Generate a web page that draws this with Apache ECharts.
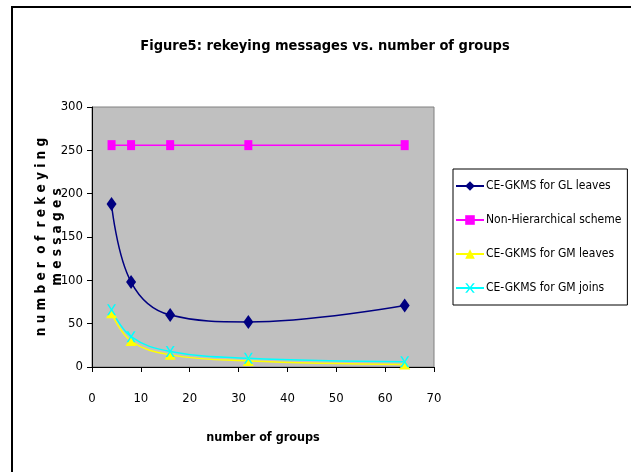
<!DOCTYPE html>
<html>
<head>
<meta charset="utf-8">
<script src="https://cdn.jsdelivr.net/npm/echarts@6/dist/echarts.min.js"></script>
<style>
  html, body { margin: 0; padding: 0; background: #fff; }
  #wrap { position: relative; width: 631px; height: 472px; }
  #chart { width: 631px; height: 472px; }
  #frame {
    position: absolute; left: 11px; top: 6px; right: -2px; bottom: -2px;
    border-top: 2px solid #000; border-left: 2px solid #000;
    pointer-events: none;
  }
</style>
</head>
<body>
<div id="wrap">
  <div id="chart"></div>
  <div id="frame"></div>
</div>
<script>
document.addEventListener('DOMContentLoaded', function() {
    const chart = echarts.init(document.getElementById('chart'));

    const FONT = '"DejaVu Sans Condensed", "Liberation Sans", Arial, sans-serif';

    // number of groups
    const groups = [4, 8, 16, 32, 64];
    // rekeying messages per series
    const glLeaves = [188, 98, 60, 52, 71];
    const nonHier = [256, 256, 256, 256, 256];
    const gmLeaves = [62, 30, 14, 7, 3];
    const gmJoins = [66, 35, 18, 10, 6];

    const seriesNames = [
        'CE-GKMS for GL leaves',
        'Non-Hierarchical scheme',
        'CE-GKMS for GM leaves',
        'CE-GKMS for GM joins'
    ];

    // small "x" marker, like the spreadsheet one
    const xMark = 'path://M0,0 L2,0 L5,4 L8,0 L10,0 L6,5 L10,10 L8,10 L5,6 L2,10 L0,10 L4,5 Z';

    function pairs(ys) {
        return groups.map((g, i) => [g, ys[i]]);
    }

    function makeSeries(name, ys, color, symbol, size, smooth) {
        return {
            name: name,
            type: 'line',
            data: pairs(ys),
            smooth: smooth,
            symbol: symbol,
            symbolSize: size,
            showAllSymbol: true,
            lineStyle: { color: color, width: 1.5 },
            itemStyle: { color: color, borderWidth: 0 },
            emphasis: { disabled: true }
        };
    }

    const option = {
        animation: false,
        backgroundColor: 'transparent',
        title: {
            text: 'Figure5: rekeying messages vs. number of groups',
            left: 320,
            textAlign: 'center',
            top: 34,
            textStyle: { fontFamily: FONT, fontSize: 14.5, fontWeight: 'bold', color: '#000' }
        },
        grid: {
            left: 92, right: 197, top: 107, bottom: 105,
            show: true,
            backgroundColor: '#c0c0c0',
            borderColor: '#808080',
            borderWidth: 1
        },
        legend: {
            orient: 'vertical',
            left: 453,
            top: 169,
            padding: [11, 6, 11, 2],
            itemGap: 22,
            itemWidth: 28,
            itemHeight: 12,
            borderColor: '#000',
            borderWidth: 1,
            backgroundColor: '#fff',
            textStyle: { fontFamily: FONT, fontSize: 12, color: '#000', padding: [0, 0, 0, -3] },
            data: seriesNames
        },
        xAxis: {
            type: 'value',
            min: 0, max: 70, interval: 10,
            name: 'number of groups',
            nameLocation: 'middle',
            nameGap: 64,
            nameTextStyle: { fontFamily: FONT, fontSize: 12.5, fontWeight: 'bold', color: '#000' },
            axisLine: { show: true, onZero: false, lineStyle: { color: '#000', width: 1 } },
            axisTick: { show: true, inside: false, length: 5, lineStyle: { color: '#000' } },
            axisLabel: { fontFamily: FONT, fontSize: 13, color: '#000', margin: 25 },
            splitLine: { show: false }
        },
        yAxis: {
            type: 'value',
            min: 0, max: 300, interval: 50,
            name: 'n u m b e r  o f  r e k e y i n g\nm e s s a g e s',
            nameLocation: 'middle',
            nameRotate: 90,
            nameGap: 27,
            nameMoveOverlap: false,
            nameTextStyle: { fontFamily: FONT, fontSize: 13.5, fontWeight: 'bold', color: '#000', lineHeight: 16 },
            axisLine: { show: true, lineStyle: { color: '#000', width: 1 } },
            axisTick: { show: true, inside: false, length: 5, lineStyle: { color: '#000' } },
            axisLabel: { fontFamily: FONT, fontSize: 13, color: '#000', margin: 9 },
            splitLine: { show: false }
        },
        series: [
            makeSeries(seriesNames[0], glLeaves, '#000080', 'diamond', [10, 14], 0.4),
            makeSeries(seriesNames[1], nonHier, '#ff00ff', 'rect', [8, 10], false),
            makeSeries(seriesNames[2], gmLeaves, '#ffff00', 'triangle', [11, 10], 0.4),
            makeSeries(seriesNames[3], gmJoins, '#00ffff', xMark, [9, 11], 0.4)
        ]
    };

    chart.setOption(option);
});
</script>
</body>
</html>
